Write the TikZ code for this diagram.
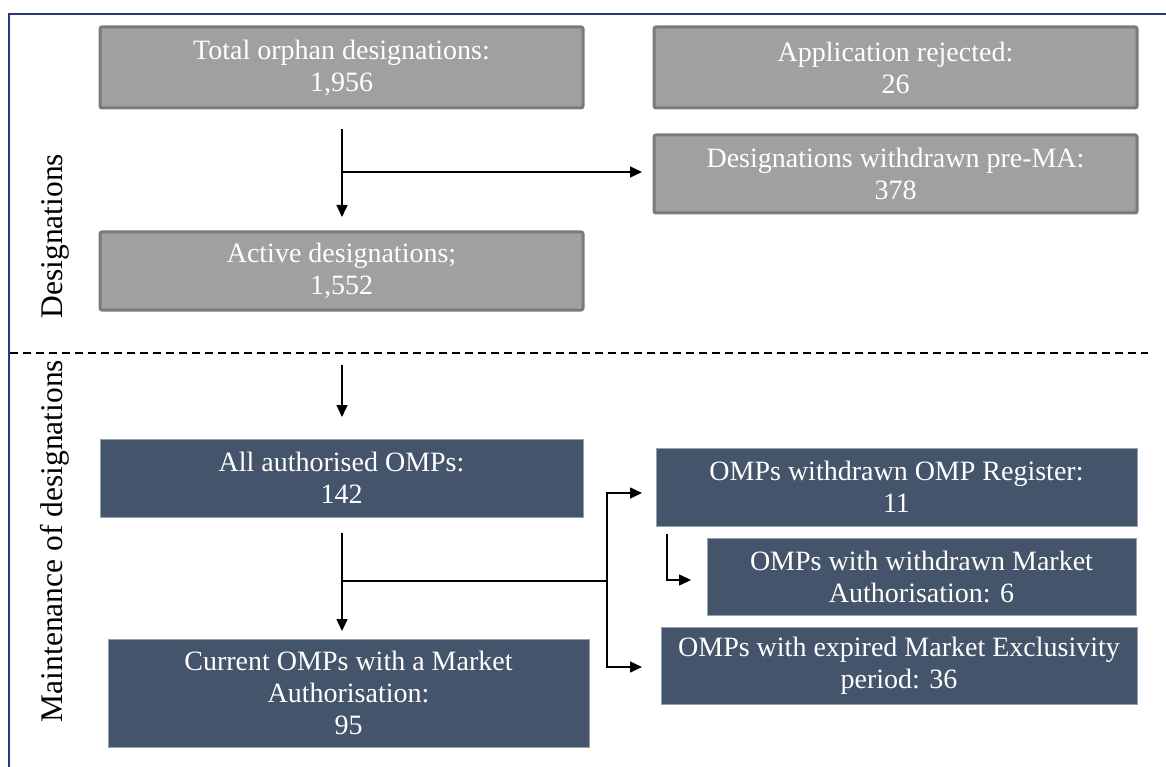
\documentclass[tikz,border=0pt]{standalone}
\usepackage{fontspec}
\setmainfont{Liberation Serif}
\usetikzlibrary{arrows.meta}
\definecolor{framecol}{RGB}{40,56,128}
\definecolor{grayfill}{RGB}{160,160,160}
\definecolor{grayline}{RGB}{122,122,122}
\definecolor{navyfill}{RGB}{68,84,106}
\definecolor{navyline}{RGB}{150,160,175}
\begin{document}
\begin{tikzpicture}[x=1pt,y=-1pt,
  boxtext/.style={inner sep=0pt, outer sep=0pt, anchor=north west, align=center, text=white, font=\fontsize{28}{32}\selectfont},
  gbox/.style={boxtext, draw=grayline, line width=3pt, fill=grayfill, rounded corners=2pt},
  nbox/.style={boxtext, draw=navyline, line width=0.8pt, fill=navyfill},
  conn/.style={line width=1.5pt, black},
  arr/.style={conn, -{Triangle[length=12pt,width=11pt]}},
  sidelabel/.style={rotate=90, inner sep=0pt, font=\fontsize{31.5}{31.5}\selectfont}]
\useasboundingbox (0,0) rectangle (1166,767);
% frame
\draw[framecol, line width=2pt] (9,767) -- (9,14) -- (1166,14);
% dashed separator
\draw[line width=2pt, dash pattern=on 8pt off 5pt] (10,353) -- (1148,353);
% side labels
\node[sidelabel] (lab1) at (55,236) {Designations};
\node[sidelabel] (lab2) at (55,541) {Maintenance of designations};
% grey boxes
\node[gbox, minimum width=483pt, minimum height=81pt] (b1) at (100,27) {Total orphan designations:\\1,956};
\node[gbox, minimum width=483pt, minimum height=81pt] (b2) at (654,27) {Application rejected:\\26};
\node[gbox, minimum width=483pt, minimum height=78pt] (b3) at (654,135) {Designations withdrawn pre-MA:\\378};
\node[gbox, minimum width=483pt, minimum height=78pt] (b4) at (100,232) {Active designations;\\1,552};
% navy boxes
\node[nbox, minimum width=483pt, minimum height=78pt] (b5) at (100,439) {All authorised OMPs:\\142};
\node[nbox, minimum width=481pt, minimum height=78pt] (b6) at (656,448) {OMPs withdrawn OMP Register:\\11};
\node[nbox, minimum width=429pt, minimum height=77pt] (b7) at (707,538) {OMPs with withdrawn Market\\Authorisation: 6};
\node[nbox, minimum width=476pt, minimum height=77pt] (b8) at (661,627) {OMPs with expired Market Exclusivity\\period: 36};
\node[nbox, minimum width=481pt, minimum height=108pt] (b9) at (108,639) {Current OMPs with a Market\\Authorisation:\\95};
% coordinates for connector ends
\coordinate (s1) at (342,129);
\coordinate (t4) at (342,217);
\coordinate (j1) at (342,172);
\coordinate (t3) at (642,172);
\coordinate (s4) at (342,365);
\coordinate (t5) at (342,417);
\coordinate (s5) at (342,533);
\coordinate (t9) at (342,631);
\coordinate (j2) at (342,581);
\coordinate (j3) at (607,581);
\coordinate (t6) at (642,493);
\coordinate (t8) at (642,667);
\coordinate (s6) at (667,534);
\coordinate (t7) at (691,580);
% connectors
\draw[arr] (s1) -- (t4);
\draw[arr] (j1) -- (t3);
\draw[arr] (s4) -- (t5);
\draw[arr] (s5) -- (t9);
\draw[conn] (j2) -- (j3);
\draw[arr] (j3) |- (t6);
\draw[arr] (j3) |- (t8);
\draw[arr] (s6) |- (t7);
\end{tikzpicture}
\end{document}
